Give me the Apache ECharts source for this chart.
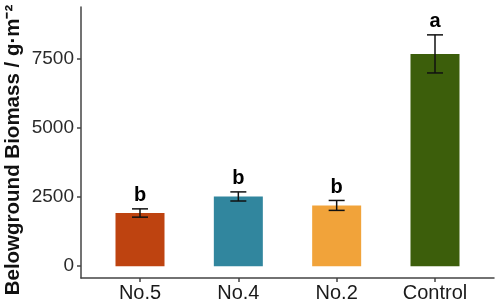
<!DOCTYPE html>
<html>
<head>
<meta charset="utf-8">
<script src="https://cdn.jsdelivr.net/npm/echarts@6/dist/echarts.min.js"></script>
<style>
  html, body { margin: 0; padding: 0; background: #fff; }
  #chart { width: 498px; height: 308px; }
</style>
</head>
<body>
<div id="chart"></div>
<script>
// data
const categories = ['No.5', 'No.4', 'No.2', 'Control'];
const means = [1925, 2525, 2200, 7690];
const errors = [150, 165, 180, 690];
const letters = ['b', 'b', 'b', 'a'];
const colors = ['#BE4310', '#31869E', '#F1A33A', '#3C5E0B'];
const yTicks = [0, 2500, 5000, 7500];
const yTitle = 'Belowground Biomass / g·m⁻²';

const chart = echarts.init(document.getElementById('chart'));

const positions = categories.map((c, i) => i + 1);

const barData = means.map((v, i) => ({
    value: [positions[i], v],
    itemStyle: { color: colors[i] }
}));

const errData = means.map((v, i) => [positions[i], v - errors[i], v + errors[i], i]);

const option = {
    animation: false,
    grid: {
        left: 81,
        right: 4,
        top: 7,
        bottom: 30,
        outerBoundsMode: 'none',
        containLabel: false
    },
    graphic: [{
        type: 'text',
        x: 13,
        y: 150,
        rotation: Math.PI / 2,
        style: {
            text: yTitle,
            fill: '#111',
            font: 'bold 20.5px Liberation Sans, Arial, sans-serif',
            align: 'center',
            verticalAlign: 'middle'
        }
    }],
    xAxis: {
        type: 'value',
        min: 0.4,
        max: 4.6,
        splitLine: { show: false },
        axisLine: { show: true, onZero: false, lineStyle: { color: '#444', width: 1.5 } },
        axisTick: {
            show: true,
            customValues: positions,
            length: 4,
            lineStyle: { color: '#444', width: 1.5 }
        },
        axisLabel: {
            customValues: positions,
            margin: 5,
            color: '#1a1a1a',
            fontSize: 20,
            fontFamily: 'Liberation Sans, Arial, sans-serif',
            formatter: (v) => categories[Math.round(v) - 1]
        }
    },
    yAxis: {
        type: 'value',
        min: -430,
        max: 9390,
        splitLine: { show: false },
        axisLine: { show: true, lineStyle: { color: '#444', width: 1.5 } },
        axisTick: {
            show: true,
            customValues: yTicks,
            length: 4,
            lineStyle: { color: '#444', width: 1.5 }
        },
        axisLabel: {
            customValues: yTicks,
            margin: 7,
            color: '#2a2a2a',
            fontSize: 19,
            fontFamily: 'Liberation Sans, Arial, sans-serif',
            formatter: (v) => String(v)
        }
    },
    series: [
        {
            type: 'bar',
            data: barData,
            barWidth: 49
        },
        {
            type: 'custom',
            data: errData,
            z: 10,
            renderItem: function (params, api) {
                const x = api.value(0);
                const lo = api.coord([x, api.value(1)]);
                const hi = api.coord([x, api.value(2)]);
                const cap = 8;
                const style = { stroke: '#111', lineWidth: 1.5 };
                return {
                    type: 'group',
                    children: [
                        { type: 'line', shape: { x1: hi[0], y1: hi[1], x2: lo[0], y2: lo[1] }, style: style },
                        { type: 'line', shape: { x1: hi[0] - cap, y1: hi[1], x2: hi[0] + cap, y2: hi[1] }, style: style },
                        { type: 'line', shape: { x1: lo[0] - cap, y1: lo[1], x2: lo[0] + cap, y2: lo[1] }, style: style },
                        {
                            type: 'text',
                            x: hi[0],
                            y: hi[1] - 3,
                            style: {
                                text: letters[api.value(3)],
                                fill: '#000',
                                font: 'bold 20px Liberation Sans, Arial, sans-serif',
                                align: 'center',
                                verticalAlign: 'bottom'
                            }
                        }
                    ]
                };
            }
        }
    ]
};

chart.setOption(option);
</script>
</body>
</html>
